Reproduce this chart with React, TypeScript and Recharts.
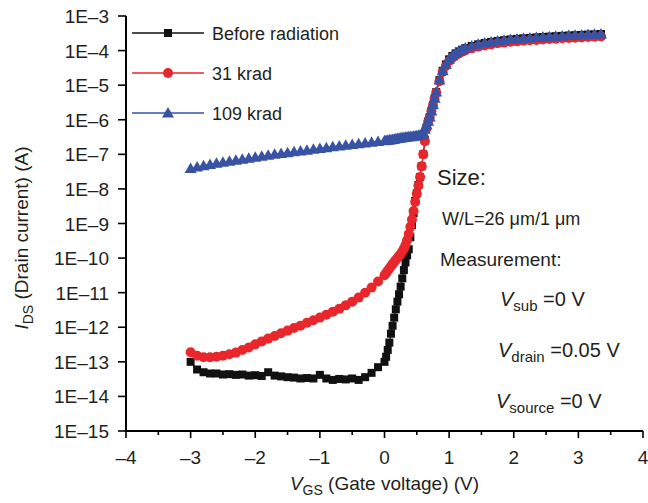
import React from "react";
import { LineChart, Line, XAxis, YAxis, Legend, Label } from "recharts";

// gate voltage (V)
const vgs = [
  -3.0, -2.9, -2.8, -2.7, -2.6, -2.5, -2.4, -2.3, -2.2, -2.1, -2.0, -1.9, -1.8, -1.7, -1.6,
  -1.5, -1.4, -1.3, -1.2, -1.1, -1.0, -0.9, -0.8, -0.7, -0.6, -0.5, -0.4, -0.3, -0.2, -0.1,
  0, 0.025, 0.05, 0.075, 0.1, 0.125, 0.15, 0.175, 0.2, 0.225, 0.25, 0.275, 0.3, 0.325, 0.35,
  0.375, 0.4, 0.425, 0.45, 0.475, 0.5, 0.525, 0.55, 0.575, 0.6, 0.625, 0.65, 0.675, 0.7,
  0.725, 0.75, 0.775, 0.8,
  0.85, 0.9, 0.95, 1.0, 1.05, 1.1, 1.15, 1.2,
  1.25, 1.35, 1.45, 1.55, 1.65, 1.75, 1.85, 1.95, 2.05, 2.15, 2.25, 2.35, 2.45, 2.55, 2.65,
  2.75, 2.85, 2.95, 3.05, 3.15, 3.25, 3.35,
];

// drain current (A), before radiation
const beforeRad = [
  1.0e-13, 6.0e-14, 5.0e-14, 4.6e-14, 4.6e-14, 4.3e-14, 4.4e-14, 4.2e-14, 4.3e-14, 4.0e-14,
  4.1e-14, 3.9e-14, 5.0e-14, 4.0e-14, 3.8e-14, 3.6e-14, 3.5e-14, 3.3e-14, 3.4e-14, 3.3e-14,
  4.2e-14, 3.3e-14, 3.0e-14, 3.2e-14, 3.1e-14, 3.3e-14, 3.0e-14, 3.6e-14, 4.8e-14, 7.0e-14,
  1.0e-13, 1.4e-13, 2.2e-13, 3.6e-13, 6.5e-13, 1.1e-12, 1.9e-12, 3.3e-12, 5.5e-12, 9.0e-12,
  1.5e-11, 2.6e-11, 4.5e-11, 7.5e-11, 1.2e-10, 1.8e-10, 4.0e-10, 9.0e-10, 2.0e-9, 4.5e-9,
  7.5e-9, 1.3e-8, 2.2e-8, 4.5e-8, 1.0e-7, 2.5e-7, 6.0e-7, 9.0e-7, 1.2e-6, 1.8e-6, 2.7e-6,
  4.2e-6, 6.3e-6,
  1.4e-5, 2.6e-5, 4.0e-5, 5.6e-5, 7.0e-5, 8.3e-5, 9.5e-5, 1.06e-4,
  1.18e-4, 1.36e-4, 1.52e-4, 1.66e-4, 1.78e-4, 1.9e-4, 2.0e-4, 2.1e-4, 2.18e-4, 2.26e-4,
  2.33e-4, 2.4e-4, 2.47e-4, 2.53e-4, 2.6e-4, 2.66e-4, 2.72e-4, 2.78e-4, 2.84e-4, 2.9e-4,
  2.96e-4, 3.02e-4,
];

// 31 krad
const krad31 = [
  1.9e-13, 1.5e-13, 1.35e-13, 1.35e-13, 1.4e-13, 1.5e-13, 1.65e-13, 1.85e-13, 2.2e-13, 2.6e-13,
  3.2e-13, 3.9e-13, 4.7e-13, 5.6e-13, 6.7e-13, 8.0e-13, 9.5e-13, 1.1e-12, 1.35e-12, 1.6e-12,
  1.9e-12, 2.3e-12, 2.8e-12, 3.4e-12, 4.3e-12, 5.5e-12, 7.2e-12, 1.0e-11, 1.4e-11, 2.1e-11,
  3.2e-11, 3.7e-11, 4.3e-11, 5.0e-11, 5.8e-11, 6.7e-11, 7.7e-11, 8.8e-11, 1.0e-10, 1.15e-10,
  1.32e-10, 1.55e-10, 1.9e-10, 2.4e-10, 3.3e-10, 5.0e-10, 8.0e-10, 1.3e-9, 2.3e-9, 4.2e-9,
  7.2e-9, 1.25e-8, 2.2e-8, 4.5e-8, 1.0e-7, 2.4e-7, 5.8e-7, 8.8e-7, 1.2e-6, 1.75e-6, 2.6e-6,
  4.0e-6, 6.0e-6,
  1.3e-5, 2.4e-5, 3.6e-5, 5.0e-5, 6.2e-5, 7.3e-5, 8.3e-5, 9.2e-5,
  1.0e-4, 1.16e-4, 1.29e-4, 1.41e-4, 1.51e-4, 1.62e-4, 1.7e-4, 1.79e-4, 1.85e-4, 1.92e-4,
  1.98e-4, 2.04e-4, 2.1e-4, 2.15e-4, 2.21e-4, 2.26e-4, 2.31e-4, 2.36e-4, 2.41e-4, 2.47e-4,
  2.52e-4, 2.57e-4,
];

// 109 krad
const krad109 = [
  3.9e-8, 4.3e-8, 4.7e-8, 5.1e-8, 5.5e-8, 5.9e-8, 6.3e-8, 6.7e-8, 7.2e-8, 7.7e-8,
  8.3e-8, 8.8e-8, 9.4e-8, 1.0e-7, 1.06e-7, 1.12e-7, 1.18e-7, 1.25e-7, 1.32e-7, 1.4e-7,
  1.48e-7, 1.56e-7, 1.65e-7, 1.74e-7, 1.83e-7, 1.93e-7, 2.03e-7, 2.13e-7, 2.24e-7, 2.35e-7,
  2.45e-7, 2.5e-7, 2.55e-7, 2.6e-7, 2.65e-7, 2.7e-7, 2.75e-7, 2.8e-7, 2.85e-7, 2.9e-7,
  2.95e-7, 3.0e-7, 3.05e-7, 3.1e-7, 3.15e-7, 3.2e-7, 3.25e-7, 3.3e-7, 3.35e-7, 3.4e-7,
  3.45e-7, 3.5e-7, 3.6e-7, 3.8e-7, 4.3e-7, 5.3e-7, 7.0e-7, 9.0e-7, 1.2e-6, 1.8e-6, 2.7e-6,
  4.2e-6, 6.3e-6,
  1.4e-5, 2.6e-5, 4.0e-5, 5.6e-5, 7.0e-5, 8.3e-5, 9.5e-5, 1.06e-4,
  1.18e-4, 1.36e-4, 1.52e-4, 1.66e-4, 1.78e-4, 1.9e-4, 2.0e-4, 2.1e-4, 2.18e-4, 2.26e-4,
  2.33e-4, 2.4e-4, 2.47e-4, 2.53e-4, 2.6e-4, 2.66e-4, 2.72e-4, 2.78e-4, 2.84e-4, 2.9e-4,
  2.96e-4, 3.02e-4,
];

const xTicks = [-4, -3.5, -3, -2.5, -2, -1.5, -1, -0.5, 0, 0.5, 1, 1.5, 2, 2.5, 3, 3.5, 4];
const yTicks = [1e-15, 1e-14, 1e-13, 1e-12, 1e-11, 1e-10, 1e-9, 1e-8, 1e-7, 1e-6, 1e-5, 1e-4, 1e-3];

const series = [
  { key: "before", name: "Before radiation", color: "#111111", shape: "square" },
  { key: "k31", name: "31 krad", color: "#e8262b", shape: "circle" },
  { key: "k109", name: "109 krad", color: "#3852a4", shape: "triangle" },
];

const data = vgs.map((v, i) => ({
  vgs: v,
  before: beforeRad[i],
  k31: krad31[i],
  k109: krad109[i],
}));

const TEXT = "#231f20";
const FONT = "'Liberation Sans', Arial, Helvetica, sans-serif";

function marker(shape: string, cx: number, cy: number, color: string, key?: any) {
  if (shape === "square") {
    return <rect key={key} x={cx - 4} y={cy - 4} width={8} height={8} fill={color} />;
  }
  if (shape === "circle") {
    return <circle key={key} cx={cx} cy={cy} r={5} fill={color} />;
  }
  return (
    <path
      key={key}
      d={`M${cx},${cy - 6} L${cx + 6},${cy + 4.5} L${cx - 6},${cy + 4.5} Z`}
      fill={color}
    />
  );
}

const dash = (v: number) => (v < 0 ? "\u2013" + Math.abs(v) : String(v));

const XTick = (props: any) => {
  const { x, y, payload } = props;
  const v = payload.value;
  const major = Number.isInteger(v);
  return (
    <g>
      <line x1={x} x2={x} y1={y} y2={y + (major ? 7 : 4)} stroke="#000" strokeWidth={1.6} />
      {major && (
        <text x={x} y={y + 33} textAnchor="middle" fontSize={19} fill={TEXT}>
          {dash(v)}
        </text>
      )}
    </g>
  );
};

const YTick = (props: any) => {
  const { x, y, payload } = props;
  const exp = Math.round(Math.log10(payload.value));
  return (
    <g>
      <line x1={x - 8} x2={x} y1={y} y2={y} stroke="#000" strokeWidth={1.6} />
      <text x={x - 17} y={y + 7} textAnchor="end" fontSize={19} fill={TEXT}>
        {"1E" + dash(exp)}
      </text>
    </g>
  );
};

const LegendBox = () => (
  <svg width={240} height={120} style={{ display: "block" }}>
    {series.map((s, i) => {
      const cy = 20 + i * 40;
      return (
        <g key={s.key}>
          <line x1={4} x2={76} y1={cy} y2={cy} stroke={s.color} strokeWidth={1.3} />
          {marker(s.shape, 40, cy, s.color)}
          <text x={84} y={cy + 6.5} fontSize={18} fill={TEXT} fontFamily={FONT}>
            {s.name}
          </text>
        </g>
      );
    })}
  </svg>
);

export default function App() {
  return (
    <div style={{ position: "absolute", left: 0, top: 0, width: 648, height: 503, background: "#fff", fontFamily: FONT }}>
      <LineChart
        width={648}
        height={503}
        data={data}
        margin={{ top: 16, right: 5, bottom: 30, left: 50 }}
      >
        <XAxis
          dataKey="vgs"
          type="number"
          domain={[-4, 4]}
          ticks={xTicks}
          interval={0}
          height={42}
          tickSize={0}
          tickMargin={0}
          tickLine={false}
          tick={<XTick />}
          axisLine={{ stroke: "#000", strokeWidth: 2 }}
        >
          <Label
            content={(p: any) => {
              const vb = p.viewBox;
              return (
                <text x={vb.x + vb.width / 2} y={vb.y + 59} textAnchor="middle" fontSize={19} fill={TEXT}>
                  <tspan fontStyle="italic">V</tspan>
                  <tspan fontSize={14} dy={5}>GS</tspan>
                  <tspan dy={-5}> (Gate voltage) (V)</tspan>
                </text>
              );
            }}
          />
        </XAxis>
        <YAxis
          scale="log"
          domain={[1e-15, 1e-3]}
          allowDataOverflow
          ticks={yTicks}
          interval={0}
          width={76}
          tickSize={0}
          tickMargin={0}
          tickLine={false}
          tick={<YTick />}
          axisLine={{ stroke: "#000", strokeWidth: 2 }}
        >
          <Label
            content={(p: any) => {
              const vb = p.viewBox;
              const cx = 28;
              const cy = vb.y + 222;
              return (
                <text x={cx} y={cy} textAnchor="middle" fontSize={19} fill={TEXT} transform={`rotate(-90, ${cx}, ${cy})`}>
                  <tspan fontStyle="italic">I</tspan>
                  <tspan fontSize={14} dy={5}>DS</tspan>
                  <tspan dy={-5}> (Drain current) (A)</tspan>
                </text>
              );
            }}
          />
        </YAxis>
        <Legend
          layout="vertical"
          align="center"
          verticalAlign="middle"
          content={<LegendBox />}
          wrapperStyle={{ left: 128, top: 13, width: 240, height: 120 }}
        />
        {series.map((s) => (
          <Line
            key={s.key}
            dataKey={s.key}
            name={s.name}
            stroke={s.color}
            strokeWidth={1.2}
            isAnimationActive={false}
            dot={(p: any) => marker(s.shape, p.cx, p.cy, s.color, p.index)}
            activeDot={false}
          />
        ))}
      </LineChart>
      <svg
        width={648}
        height={503}
        style={{ position: "absolute", left: 0, top: 0, pointerEvents: "none" }}
        fontFamily={FONT}
        fill={TEXT}
      >
        <text x={437} y={185} fontSize={22}>Size:</text>
        <text x={442} y={225} fontSize={18}>W/L=26 μm/1 μm</text>
        <text x={440} y={266} fontSize={19}>Measurement:</text>
        <text x={500} y={306} fontSize={20}>
          <tspan fontStyle="italic">V</tspan>
          <tspan fontSize={15} dy={5}>sub</tspan>
          <tspan dy={-5}> =0 V</tspan>
        </text>
        <text x={498} y={357} fontSize={20}>
          <tspan fontStyle="italic">V</tspan>
          <tspan fontSize={15} dy={5}>drain</tspan>
          <tspan dy={-5}> =0.05 V</tspan>
        </text>
        <text x={496} y={408} fontSize={20}>
          <tspan fontStyle="italic">V</tspan>
          <tspan fontSize={15} dy={5}>source</tspan>
          <tspan dy={-5}> =0 V</tspan>
        </text>
      </svg>
    </div>
  );
}
